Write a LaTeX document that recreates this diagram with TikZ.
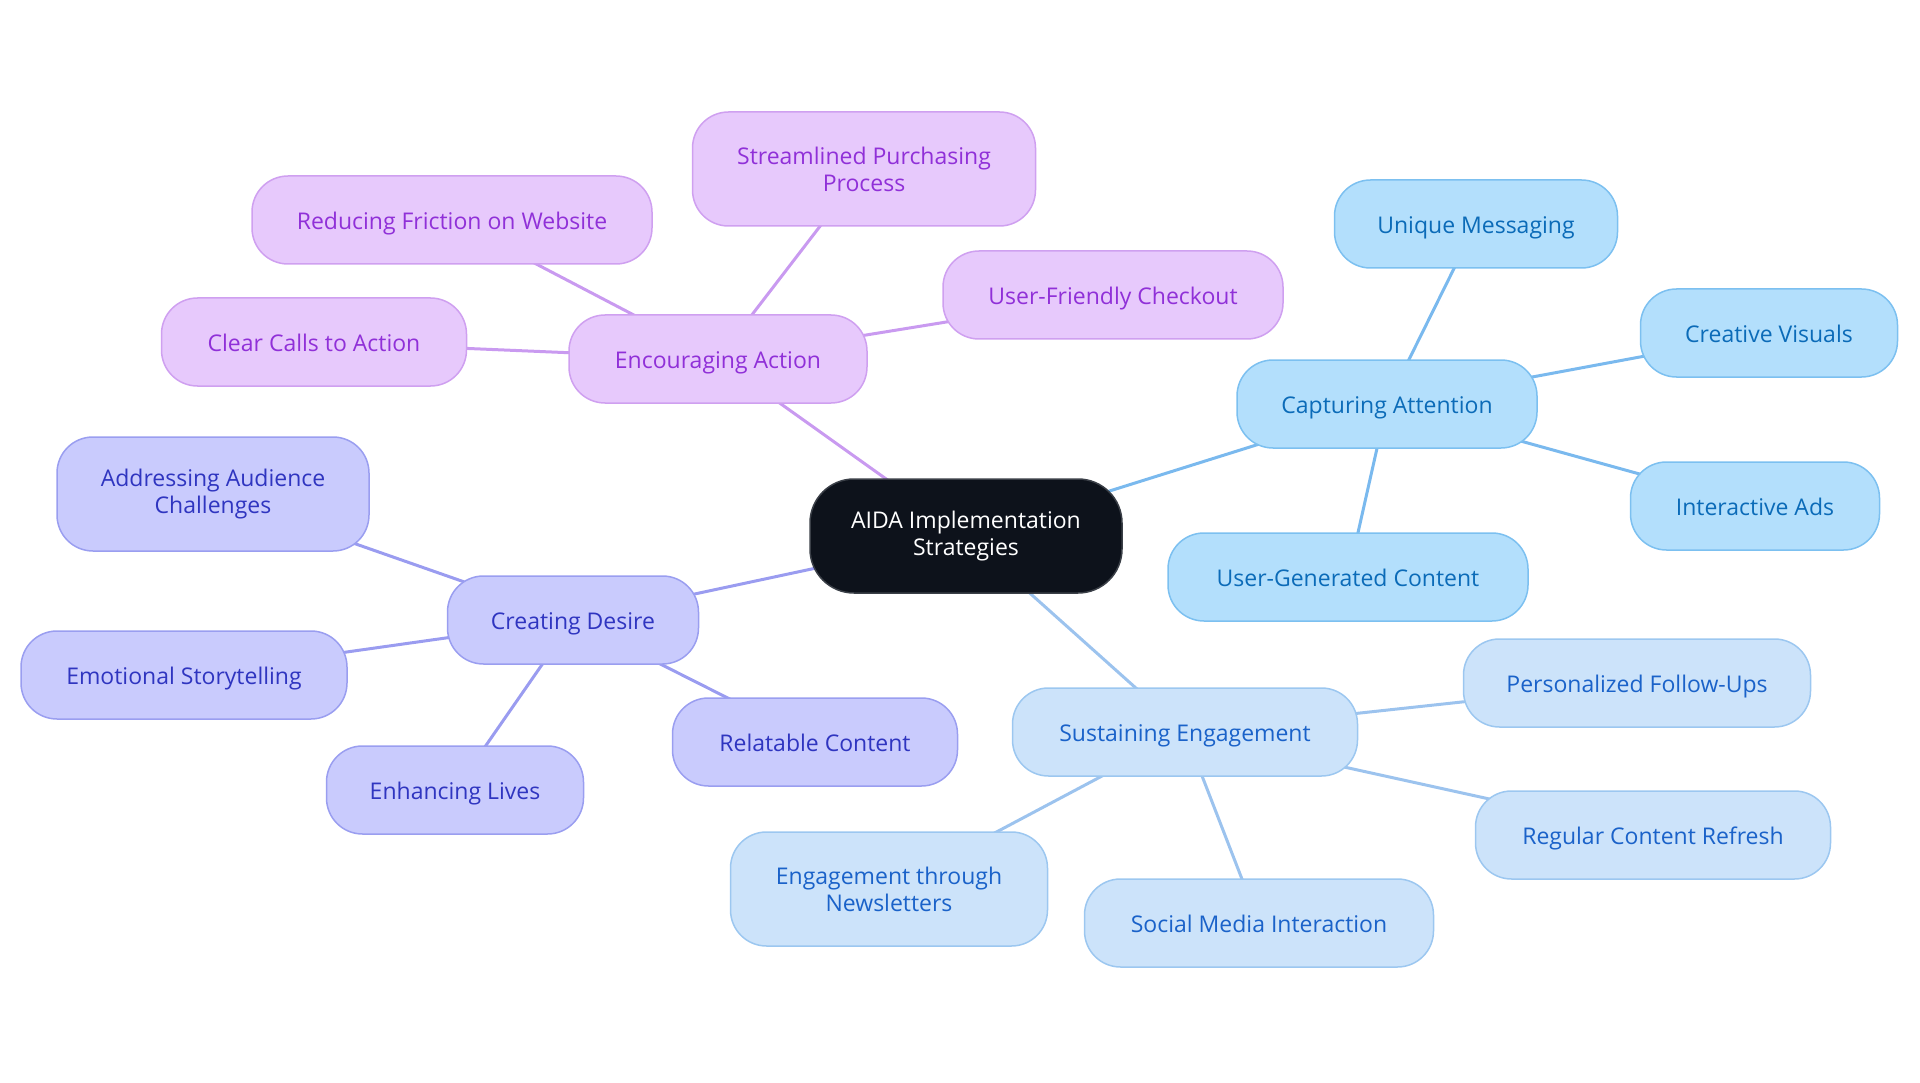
\documentclass[tikz,border=0pt]{standalone}
\usepackage{fontspec}
\setmainfont{Open Sans}
\usetikzlibrary{backgrounds}
\definecolor{rootfill}{HTML}{0D121B}
\definecolor{rootline}{HTML}{3A3F47}
\definecolor{cafill}{HTML}{B3DFFC}
\definecolor{caline}{HTML}{7CC0F0}
\definecolor{catext}{HTML}{0B6BB8}
\definecolor{caedge}{HTML}{7AB9EE}
\definecolor{sefill}{HTML}{CCE3FA}
\definecolor{seline}{HTML}{9CC7F0}
\definecolor{setext}{HTML}{1A62C9}
\definecolor{seedge}{HTML}{9CC3EE}
\definecolor{cdfill}{HTML}{C9CBFD}
\definecolor{cdline}{HTML}{9A9EF0}
\definecolor{cdtext}{HTML}{2F35C0}
\definecolor{cdedge}{HTML}{9A9CF0}
\definecolor{eafill}{HTML}{E7C9FC}
\definecolor{ealine}{HTML}{CFA0F0}
\definecolor{eatext}{HTML}{9030D8}
\definecolor{eaedge}{HTML}{C99AF0}
\tikzset{
  box/.style={rounded corners=36pt, minimum height=88pt, align=center, inner sep=0pt, line width=1.5pt,
    font=\fontsize{23}{27}\selectfont},
  one/.style={text height=24pt, text depth=5pt},
  tall/.style={minimum height=114pt},
  rootbox/.style={box, fill=rootfill, draw=rootline, text=white, rounded corners=44pt},
  ca/.style={box, one, fill=cafill, draw=caline, text=catext},
  se/.style={box, one, fill=sefill, draw=seline, text=setext},
  cd/.style={box, one, fill=cdfill, draw=cdline, text=cdtext},
  ea/.style={box, one, fill=eafill, draw=ealine, text=eatext},
  seT/.style={box, tall, fill=sefill, draw=seline, text=setext},
  cdT/.style={box, tall, fill=cdfill, draw=cdline, text=cdtext},
  eaT/.style={box, tall, fill=eafill, draw=ealine, text=eatext},
  caE/.style={draw=caedge, line width=3pt},
  seE/.style={draw=seedge, line width=3pt},
  cdE/.style={draw=cdedge, line width=3pt},
  eaE/.style={draw=eaedge, line width=3pt},
}
\begin{document}
\begin{tikzpicture}[x=1pt,y=-1pt]
\useasboundingbox (0,0) rectangle (1920,1083);
\node[rootbox, tall, minimum width=312pt] (root) at (966,536) {AIDA Implementation\\Strategies};
% Capturing Attention
\node[ca, minimum width=300pt] (ca) at (1387,404) {Capturing Attention};
\node[ca, minimum width=283pt] (ca1) at (1476,224) {Unique Messaging};
\node[ca, minimum width=257pt] (ca2) at (1769,333) {Creative Visuals};
\node[ca, minimum width=249pt] (ca3) at (1755,506) {Interactive Ads};
\node[ca, minimum width=360pt] (ca4) at (1348,577) {User-Generated Content};
% Sustaining Engagement
\node[se, minimum width=345pt] (se) at (1185,732) {Sustaining Engagement};
\node[se, minimum width=347pt] (se1) at (1637,683) {Personalized Follow-Ups};
\node[se, minimum width=355pt] (se2) at (1653,835) {Regular Content Refresh};
\node[se, minimum width=349pt] (se3) at (1259,923) {Social Media Interaction};
\node[seT, minimum width=317pt] (se4) at (889,889) {Engagement through\\Newsletters};
% Creating Desire
\node[cd, minimum width=251pt] (cd) at (573,620) {Creating Desire};
\node[cdT, minimum width=312pt] (cd1) at (213,494) {Addressing Audience\\Challenges};
\node[cd, minimum width=326pt] (cd2) at (184,675) {Emotional Storytelling};
\node[cd, minimum width=257pt] (cd3) at (455,790) {Enhancing Lives};
\node[cd, minimum width=285pt] (cd4) at (815,742) {Relatable Content};
% Encouraging Action
\node[ea, minimum width=298pt] (ea) at (718,359) {Encouraging Action};
\node[eaT, minimum width=343pt] (ea1) at (864,169) {Streamlined Purchasing\\Process};
\node[ea, minimum width=400pt] (ea2) at (452,220) {Reducing Friction on Website};
\node[ea, minimum width=305pt] (ea3) at (314,342) {Clear Calls to Action};
\node[ea, minimum width=340pt] (ea4) at (1113,295) {User-Friendly Checkout};
\begin{pgfonlayer}{background}
\draw[caE] (root.center) -- (ca.center);
\draw[caE] (ca.center) -- (ca1.center);
\draw[caE] (ca.center) -- (ca2.center);
\draw[caE] (ca.center) -- (ca3.center);
\draw[caE] (ca.center) -- (ca4.center);
\draw[seE] (root.center) -- (se.center);
\draw[seE] (se.center) -- (se1.center);
\draw[seE] (se.center) -- (se2.center);
\draw[seE] (se.center) -- (se3.center);
\draw[seE] (se.center) -- (se4.center);
\draw[cdE] (root.center) -- (cd.center);
\draw[cdE] (cd.center) -- (cd1.center);
\draw[cdE] (cd.center) -- (cd2.center);
\draw[cdE] (cd.center) -- (cd3.center);
\draw[cdE] (cd.center) -- (cd4.center);
\draw[eaE] (root.center) -- (ea.center);
\draw[eaE] (ea.center) -- (ea1.center);
\draw[eaE] (ea.center) -- (ea2.center);
\draw[eaE] (ea.center) -- (ea3.center);
\draw[eaE] (ea.center) -- (ea4.center);
\end{pgfonlayer}
\end{tikzpicture}
\end{document}
